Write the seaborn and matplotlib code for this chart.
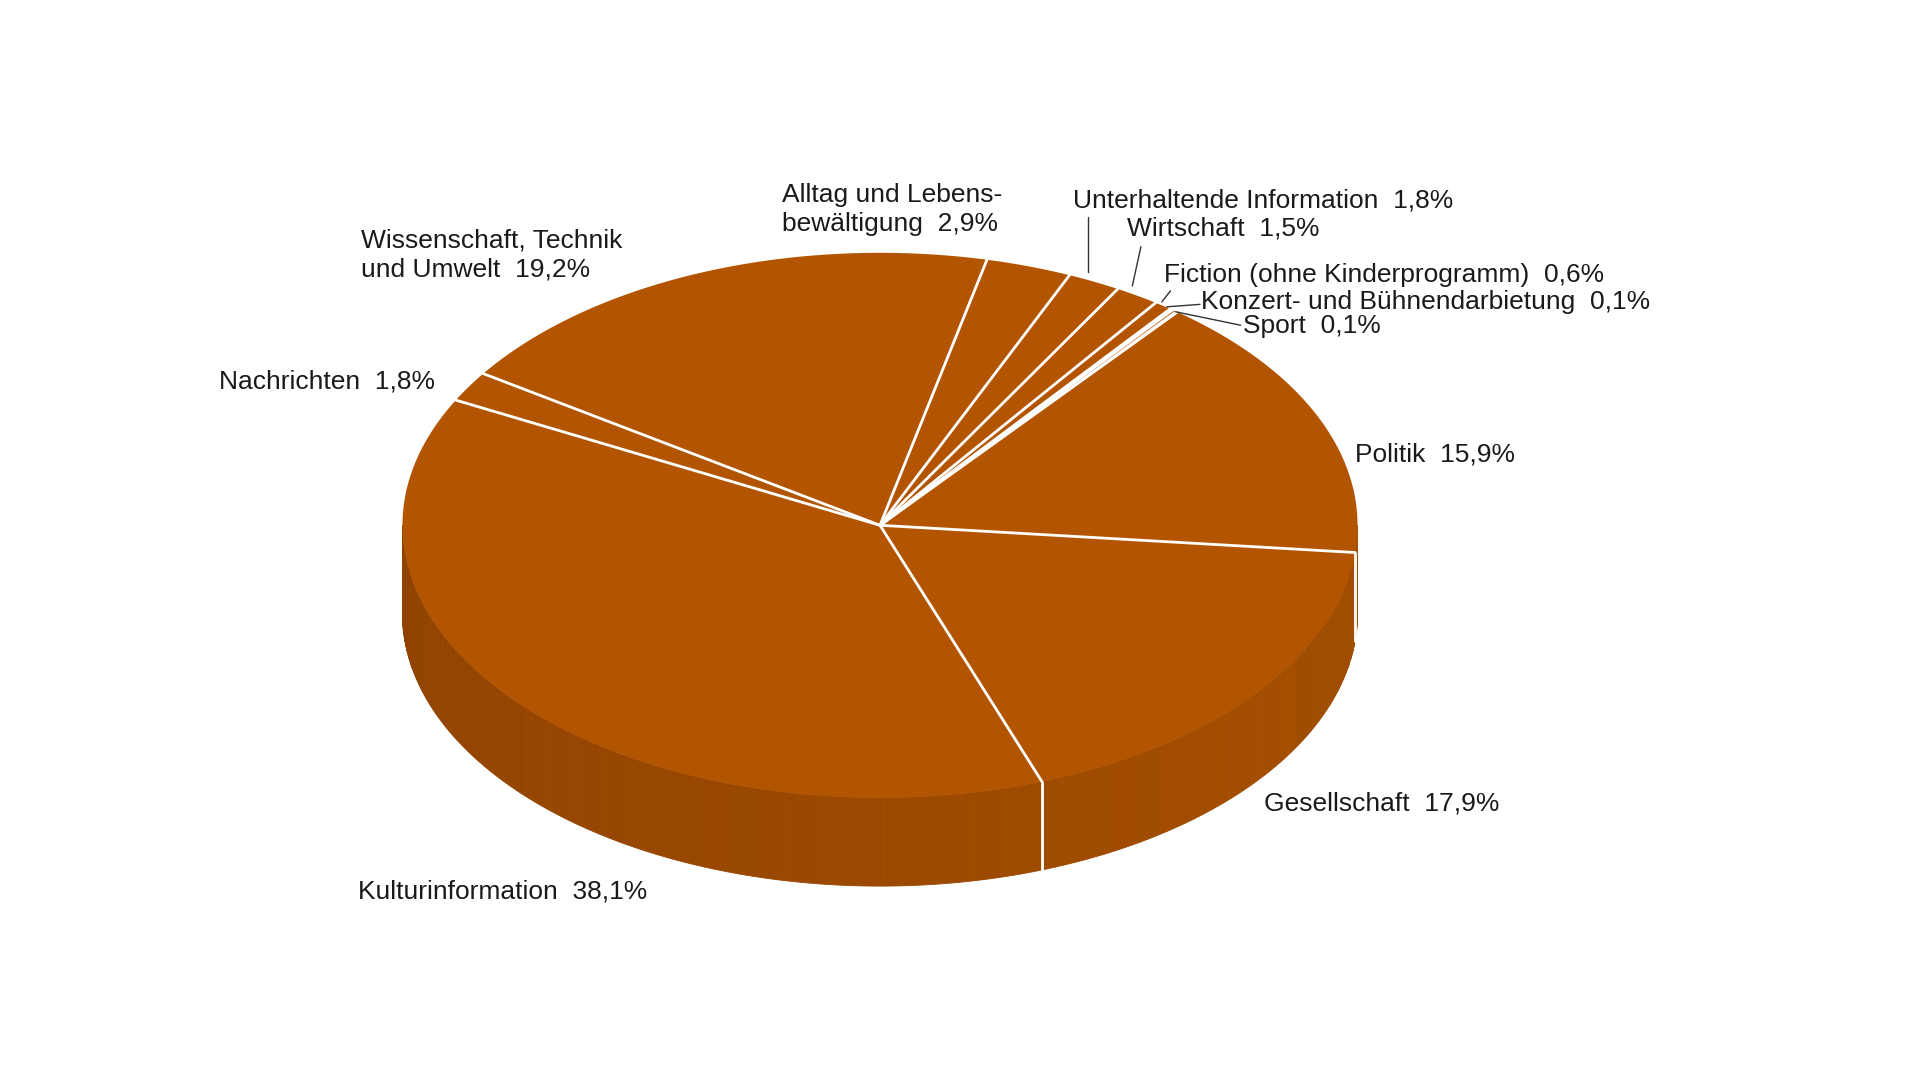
import numpy as np
import seaborn as sns
import matplotlib.pyplot as plt
from matplotlib.colors import to_rgb

# data (clockwise, starting with Politik)
labels = ['Politik', 'Gesellschaft', 'Kulturinformation', 'Nachrichten',
          'Wissenschaft, Technik\nund Umwelt', 'Alltag und Lebens-\nbewältigung',
          'Unterhaltende Information', 'Wirtschaft',
          'Fiction (ohne Kinderprogramm)', 'Konzert- und Bühnendarbietung', 'Sport']
values = [15.9, 17.9, 38.1, 1.8, 19.2, 2.9, 1.8, 1.5, 0.6, 0.1, 0.1]
value_txt = ['15,9%', '17,9%', '38,1%', '1,8%', '19,2%', '2,9%', '1,8%', '1,5%', '0,6%', '0,1%', '0,1%']

# layout (picture coords, 1560 x 880 canvas)
label_pos = [(1101, 370), (1027, 655), (291, 726), (178, 311), (293, 208), (635, 171),
             (872, 163), (916, 186), (946, 224), (976, 246), (1010, 266)]
leaders = {6: ((884, 177), (884, 222)), 7: ((927, 201), (920, 233)),
           8: ((951, 237), (944, 246)), 9: ((975, 248), (948, 250)),
           10: ((1008, 265), (955, 254))}
cx, cy, rx, ry, depth = 715, 428, 388, 222, 72
start = 51.5
top_col = '#b35500'

sns.set_theme(style='white')
plt.rcParams['font.family'] = ['Liberation Sans', 'DejaVu Sans']

fig = plt.figure(figsize=(19.2, 10.8), dpi=100)
ax = fig.add_axes([0, 0, 1, 1])
ax.set_xlim(0, 1560)
ax.set_ylim(880, 0)
ax.axis('off')

def pt(t, dy=0):
    r = np.radians(t)
    return cx + rx * np.cos(r), cy - ry * np.sin(r) + dy

# side band with gradient (front half: 180..360 deg)
c_left, c_right = np.array(to_rgb('#8f4200')), np.array(to_rgb('#a85000'))
ts = np.linspace(180, 360, 361)
for a, b in zip(ts[:-1], ts[1:]):
    f = (a - 180) / 180
    col = c_left * (1 - f) + c_right * f
    if a > 330:
        col = col * 0.97
    xa, ya = pt(a)
    xb, yb = pt(b)
    ax.fill([xa, xb, xb, xa], [ya, yb, yb + depth, ya + depth], color=col, lw=0.6, ec=col)

# top wedges
bounds = start - np.cumsum([0] + values) * 3.6
for i in range(len(values)):
    t = np.linspace(bounds[i], bounds[i + 1], 200)
    xs = [cx] + [pt(v)[0] for v in t] + [cx]
    ys = [cy] + [pt(v)[1] for v in t] + [cy]
    ax.fill(xs, ys, color=top_col, ec='none')
for b in bounds[:-1]:
    x, y = pt(b)
    ax.plot([cx, x], [cy, y], color='white', lw=2)
    a = b % 360
    if 180 < a < 360:
        ax.plot([x, x], [y, y + depth], color='white', lw=2)

# labels
for i, (lab, v) in enumerate(zip(labels, value_txt)):
    ax.text(*label_pos[i], f'{lab}  {v}', fontsize=19, va='center', ha='left',
            color='#1a1a1a', linespacing=1.25)
for i, (p0, p1) in leaders.items():
    ax.plot([p0[0], p1[0]], [p0[1], p1[1]], color='#333333', lw=1)

fig.savefig('out.png', dpi=100, facecolor='white')
